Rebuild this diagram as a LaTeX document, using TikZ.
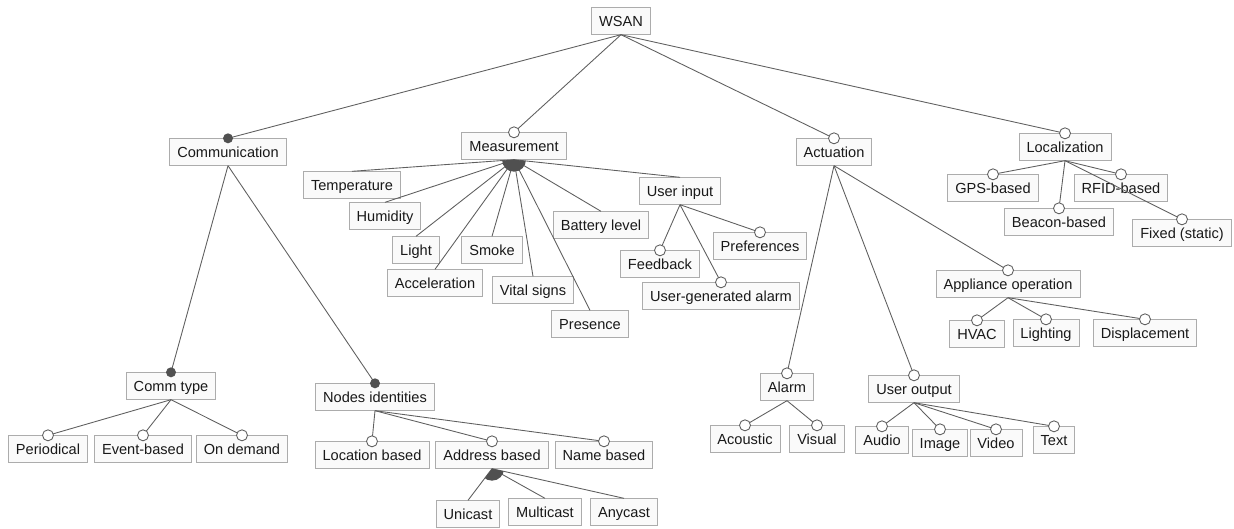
\documentclass[tikz,border=0pt]{standalone}
\usepackage{fontspec}
\setmainfont{Liberation Sans}
\definecolor{boxline}{RGB}{172,172,172}
\definecolor{boxfill}{RGB}{250,250,250}
\definecolor{linkgray}{RGB}{95,95,95}
\definecolor{dotgray}{RGB}{80,80,80}
\definecolor{textgray}{RGB}{25,25,25}
\tikzset{
  feat/.style={draw=boxline, fill=boxfill, line width=0.5pt, text=textgray,
    font=\fontsize{8.3}{10}\selectfont, inner xsep=0.15cm, inner ysep=0pt,
    text height=7.4pt, text depth=0.6pt, minimum height=0.53cm},
  link/.style={draw=linkgray, line width=0.5pt},
  optdot/.style={draw=linkgray, fill=white, line width=0.5pt},
  mandot/.style={fill=dotgray}
}

\begin{document}
\begin{tikzpicture}[x=0.02cm, y=-0.02cm]
        \useasboundingbox (0,0) rectangle (1234,528);
        % Root and first level
        \node[feat] (wsan) at (621,21) {WSAN};
        \node[feat] (comm) at (228,152) {Communication};
        \node[feat] (meas) at (514,146) {Measurement};
        \node[feat] (act) at (834,152) {Actuation};
        \node[feat] (loc) at (1065,147) {Localization};
        % Measurement
        \node[feat] (temp) at (352,185) {Temperature};
        \node[feat] (hum) at (385,216) {Humidity};
        \node[feat] (light) at (416,250) {Light};
        \node[feat] (smoke) at (492,250) {Smoke};
        \node[feat] (accel) at (435,283) {Acceleration};
        \node[feat] (vital) at (533,290) {Vital signs};
        \node[feat] (pres) at (590,324) {Presence};
        \node[feat] (batt) at (601,225) {Battery level};
        \node[feat] (uin) at (680,191) {User input};
        \node[feat] (feed) at (660,264) {Feedback};
        \node[feat] (pref) at (760,246) {Preferences};
        \node[feat] (ualarm) at (721,296) {User-generated alarm};
        % Localization
        \node[feat] (gps) at (993,188) {GPS-based};
        \node[feat] (rfid) at (1121,188) {RFID-based};
        \node[feat] (beacon) at (1059,222) {Beacon-based};
        \node[feat] (fixed) at (1182,233) {Fixed (static)};
        % Actuation
        \node[feat] (alarm) at (787,387) {Alarm};
        \node[feat] (uout) at (914,389) {User output};
        \node[feat] (appl) at (1008,284) {Appliance operation};
        \node[feat] (acou) at (745,439) {Acoustic};
        \node[feat] (visual) at (817,439) {Visual};
        \node[feat] (audio) at (882,440) {Audio};
        \node[feat] (image) at (940,443) {Image};
        \node[feat] (video) at (996,443) {Video};
        \node[feat] (text) at (1054,440) {Text};
        \node[feat] (hvac) at (977,334) {HVAC};
        \node[feat] (lighting) at (1046,333) {Lighting};
        \node[feat] (displ) at (1145,333) {Displacement};
        % Communication
        \node[feat] (ctype) at (171,386) {Comm type};
        \node[feat] (nodeid) at (375,397) {Nodes identities};
        \node[feat] (period) at (48,449) {Periodical};
        \node[feat] (event) at (143,449) {Event-based};
        \node[feat] (ondem) at (242,449) {On demand};
        \node[feat] (locb) at (372,455) {Location based};
        \node[feat] (addrb) at (492,455) {Address based};
        \node[feat] (nameb) at (604,455) {Name based};
        \node[feat] (uni) at (468,514) {Unicast};
        \node[feat] (multi) at (545,512) {Multicast};
        \node[feat] (any) at (624,512) {Anycast};
        % Links
        \foreach \p/\c in {wsan/comm, wsan/meas, wsan/act, wsan/loc,
            comm/ctype, comm/nodeid, ctype/period, ctype/event, ctype/ondem,
            nodeid/locb, nodeid/addrb, nodeid/nameb,
            addrb/uni, addrb/multi, addrb/any,
            meas/temp, meas/hum, meas/light, meas/smoke, meas/accel,
            meas/vital, meas/pres, meas/batt, meas/uin,
            uin/feed, uin/pref, uin/ualarm,
            act/alarm, act/uout, act/appl,
            alarm/acou, alarm/visual,
            uout/audio, uout/image, uout/video, uout/text,
            appl/hvac, appl/lighting, appl/displ,
            loc/gps, loc/rfid, loc/beacon, loc/fixed}
          \draw[link] (\p.south) -- (\c.north);
        % Or groups
        \begin{scope}
          \clip (meas.south) circle (0.24cm);
          \fill[dotgray] (meas.south) -- (temp.north) -- (uin.north) -- cycle;
        \end{scope}
        \begin{scope}
          \clip (addrb.south) circle (0.24cm);
          \fill[dotgray] (addrb.south) -- (uni.north) -- (any.north) -- cycle;
        \end{scope}
        % Mandatory features
        \foreach \c in {comm, ctype, nodeid}
          \fill[mandot] (\c.north) circle (0.1cm);
        % Optional features
        \foreach \c in {meas, act, loc, period, event, ondem, locb, addrb, nameb,
            feed, pref, ualarm, alarm, uout, appl, acou, visual,
            audio, image, video, text, hvac, lighting, displ,
            gps, rfid, beacon, fixed}
          \filldraw[optdot] (\c.north) circle (0.11cm);
      \end{tikzpicture}
\end{document}
